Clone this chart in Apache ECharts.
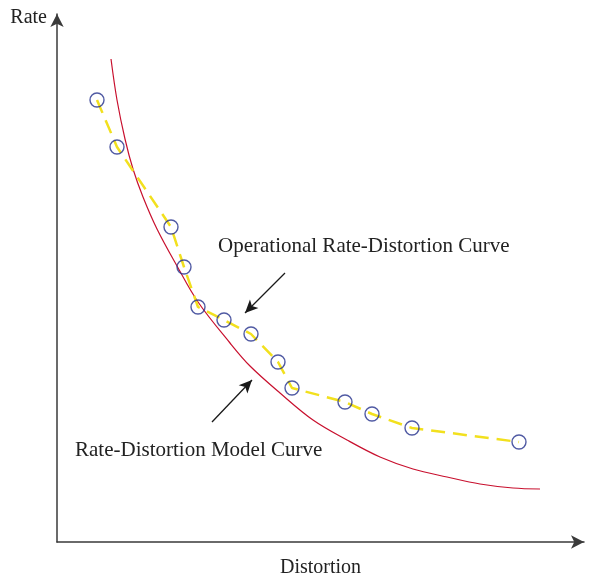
<!DOCTYPE html>
<html>
<head>
<meta charset="utf-8">
<script src="https://cdn.jsdelivr.net/npm/echarts@6/dist/echarts.min.js"></script>
<style>
  html, body { margin: 0; padding: 0; background: #fff; }
  #chart { width: 590px; height: 582px; }
</style>
</head>
<body>
<div id="chart"></div>
<script>
// operational R-D points (distortion, rate) in arbitrary units
const opDistortion = [40, 60, 114, 127, 141, 167, 194, 221, 235, 288, 315, 355, 462]
const opRate = [442, 395, 315, 275, 235, 222, 208, 180, 154, 140, 128, 114, 100]

// model curve samples
const modelDistortion = [54, 60, 68, 76, 86, 100, 120, 141, 173, 193, 223, 256, 290, 323, 356, 390, 423, 456, 483]
const modelRate = [483, 442, 403, 373, 345, 313, 276, 240, 199, 176, 149, 122, 102, 85, 73, 65, 58, 54, 53]

// annotation arrows: [tail, head]
const arrowOperational = [[228, 269], [188, 229]]
const arrowModel = [[155, 120], [195, 162]]

const serif = '"Liberation Serif", "DejaVu Serif", serif'
const textColor = '#222'

const chart = echarts.init(document.getElementById('chart'))

const axisLine = {
  show: true,
  symbol: ['none', 'arrow'],
  symbolSize: [10, 13],
  lineStyle: { color: '#3a3a3a', width: 1.5 },
}

chart.setOption({
  animation: false,
  grid: { left: 57, right: 6, top: 14, bottom: 40, outerBoundsMode: 'none' },
  xAxis: {
    type: 'value',
    min: 0,
    max: 527,
    name: 'Distortion',
    nameLocation: 'middle',
    nameGap: 16,
    nameTextStyle: { fontFamily: serif, fontSize: 20, color: textColor },
    axisLine,
    axisTick: { show: false },
    axisLabel: { show: false },
    splitLine: { show: false },
  },
  yAxis: {
    type: 'value',
    min: 0,
    max: 528,
    name: 'Rate',
    nameLocation: 'end',
    nameGap: -4,
    nameTextStyle: {
      fontFamily: serif, fontSize: 20, color: textColor,
      align: 'right', verticalAlign: 'middle', padding: [0, 10, 0, 0],
    },
    axisLine,
    axisTick: { show: false },
    axisLabel: { show: false },
    splitLine: { show: false },
  },
  graphic: [
    {
      type: 'text', left: 218, top: 236,
      style: { text: 'Operational Rate-Distortion Curve', font: '21px ' + serif, fill: textColor },
    },
    {
      type: 'text', left: 75, top: 440,
      style: { text: 'Rate-Distortion Model Curve', font: '21px ' + serif, fill: textColor },
    },
  ],
  series: [
    {
      name: 'Model',
      type: 'line',
      smooth: 0.35,
      symbol: 'none',
      data: modelDistortion.map((d, i) => [d, modelRate[i]]),
      lineStyle: { color: '#c8102e', width: 1.2 },
      z: 2,
      markLine: {
        silent: true,
        symbol: ['none', 'arrow'],
        symbolSize: [9, 13],
        label: { show: false },
        lineStyle: { color: '#1a1a1a', width: 1.3, type: 'solid' },
        data: [
          [{ coord: arrowOperational[0] }, { coord: arrowOperational[1] }],
          [{ coord: arrowModel[0] }, { coord: arrowModel[1] }],
        ],
      },
    },
    {
      name: 'Operational',
      type: 'line',
      symbol: 'none',
      data: opDistortion.map((d, i) => [d, opRate[i]]),
      lineStyle: { color: '#f2e01e', width: 2.5, type: [14, 8] },
      z: 3,
    },
    {
      name: 'Points',
      type: 'scatter',
      symbol: 'circle',
      symbolSize: 14,
      data: opDistortion.map((d, i) => [d, opRate[i]]),
      itemStyle: { color: 'rgba(0,0,0,0)', borderColor: '#24318c', borderWidth: 1.4 },
      z: 4,
    },
  ],
})
</script>
</body>
</html>
